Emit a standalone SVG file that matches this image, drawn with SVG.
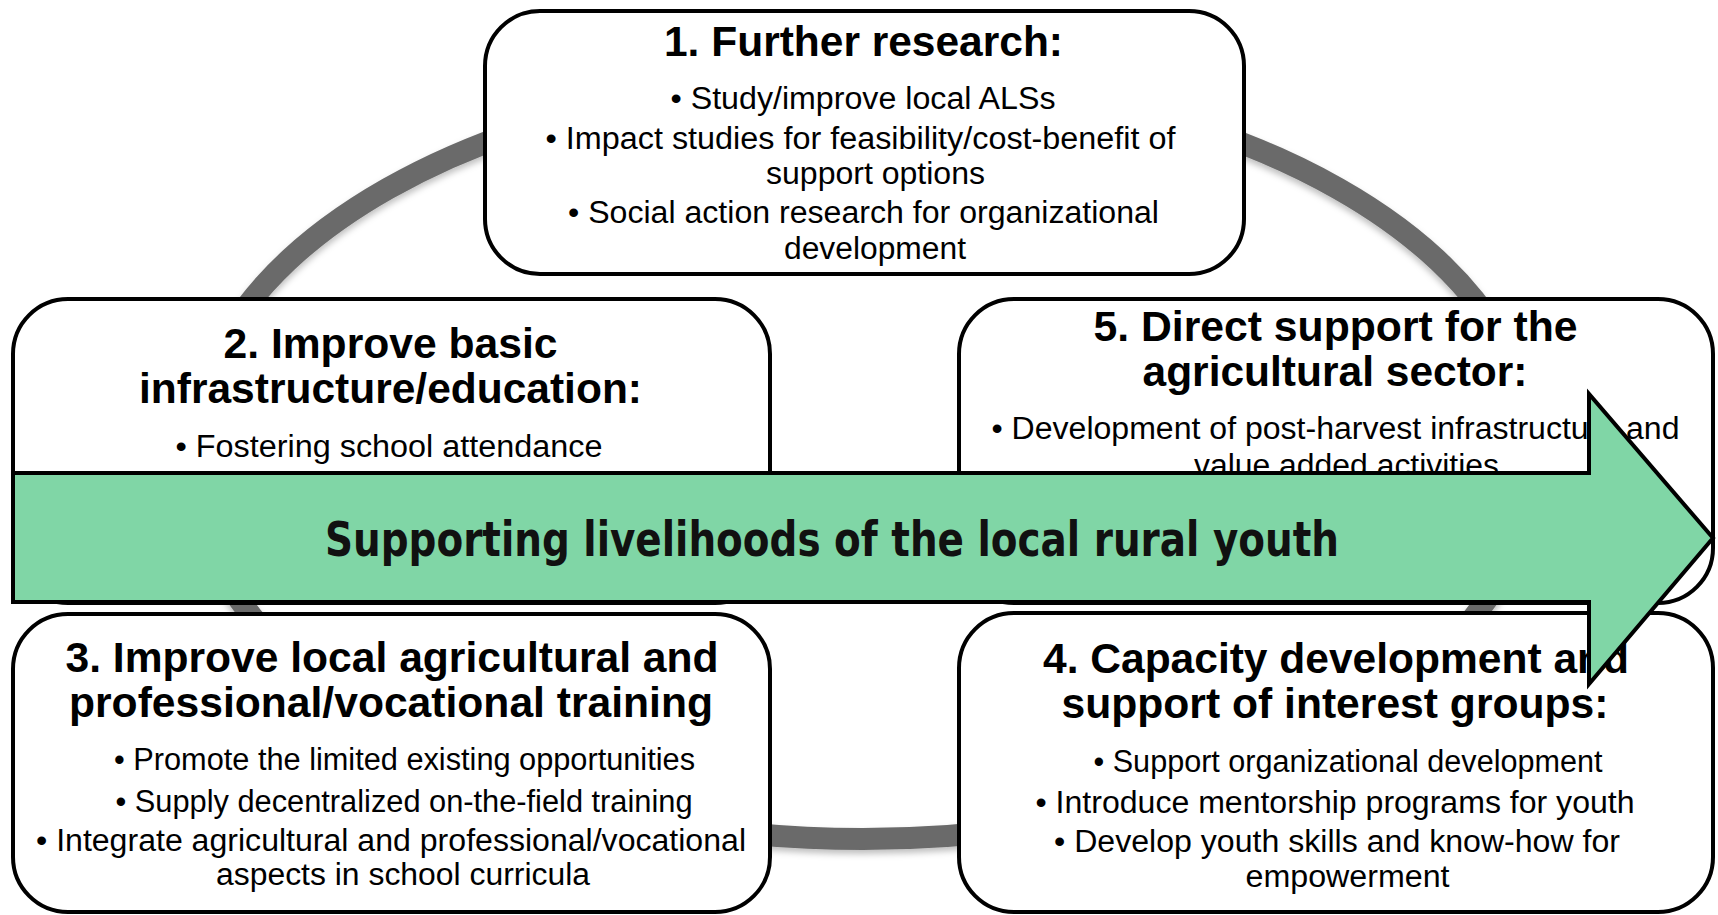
<svg xmlns="http://www.w3.org/2000/svg" width="1718" height="915" viewBox="0 0 1718 915">
<defs>
<filter id="sh" x="-10%" y="-10%" width="120%" height="120%">
<feDropShadow dx="0" dy="4" stdDeviation="3" flood-color="#000" flood-opacity="0.25"/>
</filter>
</defs>
<style>
.box{fill:#fff;stroke:#000;stroke-width:4}
.t{font-family:"Liberation Sans",Arial,sans-serif;font-weight:bold;font-size:43px;fill:#000;text-anchor:middle}
.b{font-family:"Liberation Sans",Arial,sans-serif;font-size:31px;fill:#000;text-anchor:middle}
.main{font-family:"DejaVu Sans",Verdana,sans-serif;font-weight:bold;font-size:48px;fill:#111;text-anchor:middle}
</style>
<rect width="1718" height="915" fill="#fff"/>
<g id="connectors">
<ellipse cx="863" cy="458" rx="672" ry="381" fill="none" stroke="#6b6b6b" stroke-width="22" filter="url(#sh)"/>
</g>
<g id="node1">
<rect class="box" x="485" y="11" width="759" height="263" rx="55"/>
<text class="t" x="863.5" y="56" textLength="399" lengthAdjust="spacingAndGlyphs">1. Further research:</text>
<text class="b" x="863" y="109" textLength="385" lengthAdjust="spacingAndGlyphs">• Study/improve local ALSs</text>
<text class="b" x="860.5" y="149" textLength="630" lengthAdjust="spacingAndGlyphs">• Impact studies for feasibility/cost-benefit of</text>
<text class="b" x="875.5" y="184" textLength="219" lengthAdjust="spacingAndGlyphs">support options</text>
<text class="b" x="863.5" y="223" textLength="591" lengthAdjust="spacingAndGlyphs">• Social action research for organizational</text>
<text class="b" x="875" y="259" textLength="182" lengthAdjust="spacingAndGlyphs">development</text>
</g>
<g id="node2">
<rect class="box" x="13" y="299" width="757" height="304" rx="55"/>
<text class="t" x="390.5" y="358" textLength="334" lengthAdjust="spacingAndGlyphs">2. Improve basic</text>
<text class="t" x="390.5" y="403" textLength="503" lengthAdjust="spacingAndGlyphs">infrastructure/education:</text>
<text class="b" x="389" y="457" textLength="427" lengthAdjust="spacingAndGlyphs">• Fostering school attendance</text>
</g>
<g id="node5">
<rect class="box" x="959" y="299" width="754" height="304" rx="55"/>
<text class="t" x="1335.5" y="341" textLength="484" lengthAdjust="spacingAndGlyphs">5. Direct support for the</text>
<text class="t" x="1335" y="386" textLength="385" lengthAdjust="spacingAndGlyphs">agricultural sector:</text>
<text class="b" x="1335.5" y="439" textLength="688" lengthAdjust="spacingAndGlyphs">• Development of post-harvest infrastructure and</text>
<text class="b" x="1346.5" y="476" textLength="305" lengthAdjust="spacingAndGlyphs">value added activities</text>
</g>
<g id="node3">
<rect class="box" x="13" y="614" width="757" height="298" rx="55"/>
<text class="t" x="392" y="672" textLength="653" lengthAdjust="spacingAndGlyphs">3. Improve local agricultural and</text>
<text class="t" x="391" y="717" textLength="644" lengthAdjust="spacingAndGlyphs">professional/vocational training</text>
<text class="b" x="404.5" y="770" textLength="581" lengthAdjust="spacingAndGlyphs">• Promote the limited existing opportunities</text>
<text class="b" x="404" y="812" textLength="577" lengthAdjust="spacingAndGlyphs">• Supply decentralized on-the-field training</text>
<text class="b" x="391" y="851" textLength="710" lengthAdjust="spacingAndGlyphs">• Integrate agricultural and professional/vocational</text>
<text class="b" x="403" y="885" textLength="374" lengthAdjust="spacingAndGlyphs">aspects in school curricula</text>
</g>
<g id="node4">
<rect class="box" x="959" y="613" width="754" height="299" rx="55"/>
<text class="t" x="1336" y="673" textLength="586" lengthAdjust="spacingAndGlyphs">4. Capacity development and</text>
<text class="t" x="1335" y="718" textLength="547" lengthAdjust="spacingAndGlyphs">support of interest groups:</text>
<text class="b" x="1348" y="772" textLength="509" lengthAdjust="spacingAndGlyphs">• Support organizational development</text>
<text class="b" x="1335" y="813" textLength="599" lengthAdjust="spacingAndGlyphs">• Introduce mentorship programs for youth</text>
<text class="b" x="1337" y="852" textLength="566" lengthAdjust="spacingAndGlyphs">• Develop youth skills and know-how for</text>
<text class="b" x="1347.5" y="887" textLength="204" lengthAdjust="spacingAndGlyphs">empowerment</text>
</g>
<g id="arrow">
<polygon points="13,473 1589,473 1589,394 1713,538 1589,684 1589,602 13,602" fill="#80d6a6" stroke="#000" stroke-width="4" stroke-linejoin="miter"/>
<text class="main" x="832" y="556" textLength="1014" lengthAdjust="spacingAndGlyphs">Supporting livelihoods of the local rural youth</text>
</g>
</svg>
